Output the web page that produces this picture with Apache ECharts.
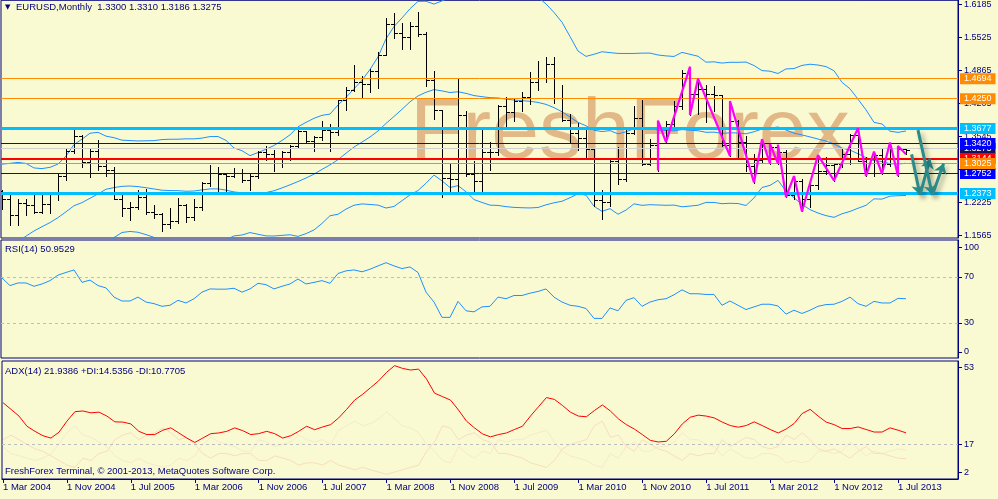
<!DOCTYPE html>
<html><head><meta charset="utf-8">
<script src="https://cdn.jsdelivr.net/npm/echarts@6/dist/echarts.min.js"></script>
<style>html,body{margin:0;padding:0;background:#FAFAD2}#c{width:998px;height:499px}</style>
</head><body><div id="c"></div><script>
// ---------- DATA ----------
const tickIdx = [0,8,16,24,32,40,48,56,64,72,80,88,96,104,112];
const tickLabels = ['1 Mar 2004','1 Nov 2004','1 Jul 2005','1 Mar 2006','1 Nov 2006','1 Jul 2007','1 Mar 2008','1 Nov 2008','1 Jul 2009','1 Mar 2010','1 Nov 2010','1 Jul 2011','1 Mar 2012','1 Nov 2012','1 Jul 2013'];
const priceTicks = [1.1565,1.2225,1.2885,1.3545,1.4205,1.4865,1.5525,1.6185];

const open = [
1.2460,1.2300,1.1970,1.2200,1.2170,1.2020,1.2180,1.2410,1.2760,1.3260,
1.3560,1.3040,1.3250,1.2960,1.2870,1.2300,1.2100,1.2120,1.2340,1.2030,
1.1980,1.1790,1.1840,1.2160,1.1920,1.2120,1.2620,1.2810,1.2790,1.2760,
1.2820,1.2670,1.2760,1.3240,1.3200,1.3020,1.3240,1.3360,1.3650,1.3450,
1.3540,1.3680,1.3640,1.4270,1.4470,1.4630,1.4590,1.4860,1.5180,1.5790,
1.5610,1.5540,1.5760,1.5600,1.4680,1.4070,1.2720,1.2700,1.3970,1.2800,
1.2660,1.3240,1.3230,1.4150,1.4030,1.4250,1.4330,1.4630,1.4720,1.5000,
1.4320,1.3870,1.3620,1.3510,1.3290,1.2270,1.2230,1.3050,1.2690,1.3620,
1.3920,1.3000,1.3380,1.3700,1.3800,1.4160,1.4810,1.4390,1.4500,1.4390,
1.4370,1.3380,1.3860,1.3440,1.2960,1.3080,1.3320,1.3340,1.3240,1.2370,
1.2660,1.2300,1.2580,1.2860,1.2970,1.2990,1.3190,1.3580,1.3060,1.2820,
1.3170,1.3000,1.3010,1.3300];
const high = [
1.2480,1.2390,1.2280,1.2300,1.2380,1.2380,1.2440,1.2810,1.3300,1.3670,
1.3580,1.3290,1.3480,1.3090,1.2930,1.2400,1.2230,1.2480,1.2500,1.2170,
1.2010,1.2100,1.2320,1.2190,1.2290,1.2640,1.2980,1.2940,1.2820,1.2910,
1.2900,1.2800,1.3260,1.3360,1.3280,1.3250,1.3380,1.3680,1.3660,1.3550,
1.3850,1.3790,1.4280,1.4530,1.4970,1.4760,1.4900,1.5240,1.5910,1.6020,
1.5820,1.5840,1.6040,1.5630,1.4860,1.4080,1.3020,1.4720,1.4060,1.3050,
1.3740,1.3430,1.4170,1.4340,1.4310,1.4440,1.4840,1.5060,1.5140,1.5140,
1.4580,1.3990,1.3820,1.3690,1.3310,1.2470,1.3110,1.3330,1.3670,1.4160,
1.4280,1.3500,1.3860,1.3860,1.4250,1.4880,1.4940,1.4700,1.4580,1.4550,
1.4380,1.4250,1.3880,1.3550,1.3190,1.3490,1.3390,1.3380,1.3280,1.2750,
1.2690,1.2640,1.3170,1.3140,1.3020,1.3310,1.3600,1.3710,1.3130,1.3240,
1.3310,1.3420,1.3350,1.3310];
const low = [
1.2080,1.1760,1.1760,1.1970,1.2010,1.2010,1.2010,1.2260,1.2680,1.3210,
1.2940,1.2730,1.2870,1.2760,1.2280,1.1950,1.1870,1.2080,1.1990,1.1910,
1.1640,1.1710,1.1800,1.1830,1.1870,1.2060,1.2560,1.2460,1.2460,1.2730,
1.2640,1.2480,1.2720,1.3070,1.2860,1.2930,1.3070,1.3320,1.3410,1.3260,
1.3480,1.3260,1.3580,1.4070,1.4450,1.4330,1.4440,1.4510,1.5170,1.5520,
1.5290,1.5300,1.5560,1.4560,1.3890,1.2330,1.2420,1.2420,1.2760,1.2460,
1.2460,1.2880,1.3180,1.3740,1.3850,1.4050,1.4200,1.4480,1.4640,1.4210,
1.3860,1.3440,1.3270,1.3120,1.2140,1.1880,1.2150,1.2590,1.2650,1.3600,
1.2970,1.2970,1.2860,1.3430,1.3750,1.4100,1.3970,1.4000,1.3830,1.4050,
1.3360,1.3150,1.3140,1.2860,1.2620,1.3010,1.3000,1.3000,1.2330,1.2280,
1.2040,1.2130,1.2500,1.2800,1.2660,1.2930,1.3000,1.3060,1.2750,1.2745,
1.2795,1.2950,1.2750,1.3186];
const close = [
1.2300,1.1970,1.2200,1.2170,1.2020,1.2180,1.2410,1.2760,1.3260,1.3560,
1.3040,1.3250,1.2960,1.2870,1.2300,1.2100,1.2120,1.2340,1.2030,1.1980,
1.1790,1.1840,1.2160,1.1920,1.2120,1.2620,1.2810,1.2790,1.2760,1.2820,
1.2670,1.2760,1.3240,1.3200,1.3020,1.3240,1.3360,1.3650,1.3450,1.3540,
1.3680,1.3640,1.4270,1.4470,1.4630,1.4590,1.4860,1.5180,1.5790,1.5610,
1.5540,1.5760,1.5600,1.4680,1.4070,1.2720,1.2700,1.3970,1.2800,1.2660,
1.3240,1.3230,1.4150,1.4030,1.4250,1.4330,1.4630,1.4720,1.5000,1.4320,
1.3870,1.3620,1.3510,1.3290,1.2270,1.2230,1.3050,1.2690,1.3620,1.3920,
1.3000,1.3380,1.3700,1.3800,1.4160,1.4810,1.4390,1.4500,1.4390,1.4370,
1.3380,1.3860,1.3440,1.2960,1.3080,1.3320,1.3340,1.3240,1.2370,1.2660,
1.2300,1.2580,1.2860,1.2970,1.2990,1.3190,1.3580,1.3060,1.2820,1.3170,
1.3000,1.3010,1.3300,1.3275];

const bbUpper = [
1.2988,1.3004,1.3023,1.3002,1.2912,1.2899,1.2924,1.2989,1.3150,1.3381,
1.3489,1.3607,1.3625,1.3549,1.3518,1.3468,1.3460,1.3452,1.3456,1.3459,
1.3480,1.3487,1.3487,1.3495,1.3494,1.3510,1.3540,1.3541,1.3464,1.3311,
1.3257,1.3158,1.3220,1.3287,1.3361,1.3462,1.3574,1.3737,1.3824,1.3906,
1.3965,1.3991,1.4172,1.4324,1.4497,1.4668,1.4884,1.5136,1.5497,1.5745,
1.5916,1.6100,1.6248,1.6250,1.6193,1.6257,1.6324,1.6318,1.6375,1.6443,
1.6457,1.6471,1.6465,1.6445,1.6422,1.6403,1.6383,1.6328,1.6197,1.6026,
1.5829,1.5544,1.5253,1.5146,1.5188,1.5239,1.5221,1.5205,1.5204,1.5205,
1.5211,1.5212,1.5174,1.5156,1.5144,1.5226,1.5188,1.5149,1.5030,1.5037,
1.5012,1.5028,1.5027,1.5032,1.4963,1.4861,1.4850,1.4803,1.4895,1.4902,
1.4965,1.4989,1.4973,1.4941,1.4859,1.4626,1.4497,1.4289,1.4075,1.3825,
1.3792,1.3647,1.3624,1.3652];
const bbMiddle = [
1.1206,1.1314,1.1431,1.1546,1.1650,1.1735,1.1818,1.1917,1.2034,1.2155,
1.2217,1.2305,1.2391,1.2485,1.2518,1.2544,1.2550,1.2538,1.2516,1.2491,
1.2466,1.2459,1.2457,1.2445,1.2450,1.2472,1.2492,1.2493,1.2468,1.2431,
1.2413,1.2388,1.2402,1.2419,1.2455,1.2512,1.2574,1.2639,1.2710,1.2788,
1.2883,1.2973,1.3078,1.3206,1.3331,1.3430,1.3532,1.3652,1.3803,1.3943,
1.4086,1.4236,1.4354,1.4428,1.4481,1.4455,1.4422,1.4438,1.4405,1.4361,
1.4339,1.4319,1.4313,1.4291,1.4272,1.4259,1.4247,1.4224,1.4185,1.4120,
1.4037,1.3930,1.3825,1.3756,1.3666,1.3641,1.3659,1.3595,1.3636,1.3699,
1.3687,1.3694,1.3672,1.3660,1.3656,1.3680,1.3668,1.3657,1.3626,1.3629,
1.3604,1.3616,1.3613,1.3596,1.3637,1.3691,1.3706,1.3733,1.3671,1.3608,
1.3573,1.3533,1.3491,1.3449,1.3391,1.3310,1.3269,1.3197,1.3119,1.3059,
1.3040,1.2997,1.2990,1.3006];
const bbLower = [
0.9424,0.9624,0.9839,1.0090,1.0388,1.0571,1.0712,1.0845,1.0918,1.0929,
1.0945,1.1003,1.1157,1.1421,1.1518,1.1620,1.1640,1.1624,1.1576,1.1523,
1.1452,1.1431,1.1427,1.1395,1.1406,1.1434,1.1444,1.1445,1.1472,1.1551,
1.1569,1.1618,1.1584,1.1551,1.1549,1.1562,1.1574,1.1541,1.1596,1.1670,
1.1801,1.1955,1.1984,1.2088,1.2165,1.2192,1.2180,1.2168,1.2109,1.2141,
1.2256,1.2372,1.2460,1.2606,1.2769,1.2653,1.2520,1.2558,1.2435,1.2279,
1.2221,1.2167,1.2161,1.2137,1.2122,1.2115,1.2111,1.2120,1.2173,1.2214,
1.2245,1.2316,1.2397,1.2366,1.2144,1.2043,1.2097,1.1985,1.2068,1.2193,
1.2163,1.2176,1.2170,1.2164,1.2168,1.2134,1.2148,1.2165,1.2222,1.2221,
1.2196,1.2204,1.2199,1.2160,1.2311,1.2521,1.2562,1.2663,1.2447,1.2314,
1.2181,1.2077,1.2009,1.1957,1.1923,1.1994,1.2041,1.2105,1.2163,1.2293,
1.2288,1.2347,1.2356,1.2360];

const rsi = [
69.0,62.4,64.7,64.7,61.8,63.8,66.7,71.5,73.8,76.0,
65.2,67.2,62.4,60.4,52.4,49.0,49.0,52.4,48.1,46.7,
44.4,45.3,49.6,47.3,51.0,56.7,59.5,59.3,59.3,60.1,
56.7,59.5,64.4,63.2,59.5,61.8,63.8,68.1,63.8,65.2,
66.7,64.4,72.9,75.2,76.0,74.4,76.6,79.5,82.3,79.5,
77.2,78.6,73.8,56.7,48.1,34.8,34.8,48.7,40.5,39.6,
43.9,44.4,52.4,51.0,53.8,53.8,55.8,57.3,59.5,52.4,
48.1,45.3,44.4,42.5,33.9,33.9,43.0,40.5,49.6,51.9,
44.4,48.1,50.1,51.0,54.4,58.7,55.3,55.3,54.7,54.7,
45.3,49.0,45.3,41.6,43.9,46.2,46.2,44.7,37.6,41.0,
38.2,41.0,44.4,45.9,46.2,48.7,52.4,46.7,44.4,48.7,
47.3,47.3,51.3,50.95];
const adx = [
35.0,32.1,29.2,24.8,22.6,20.7,19.7,22.2,27.0,31.1,
31.4,30.6,30.9,29.2,26.7,26.6,25.8,22.6,21.2,21.2,
23.1,24.1,21.9,19.7,17.8,19.7,21.6,21.9,22.6,24.1,
22.9,21.2,21.6,22.6,21.6,19.7,20.7,22.6,24.8,23.3,
24.5,25.5,28.4,32.1,36.1,38.6,41.5,44.4,48.1,51.0,
49.8,49.1,49.5,45.2,39.1,37.6,36.1,31.8,27.0,24.1,
21.5,20.2,21.2,21.9,23.4,24.8,29.2,33.2,37.2,36.4,
33.8,30.9,29.2,28.9,31.6,34.0,31.4,28.0,25.5,23.6,
21.2,18.7,18.0,18.3,21.5,25.8,28.7,29.6,29.2,28.4,
26.6,25.1,24.4,25.1,26.7,25.1,23.4,21.9,23.6,26.0,
30.3,32.1,29.2,26.6,25.5,23.8,23.8,24.5,23.4,22.3,
22.3,24.1,23.1,21.94];
const plusDI = [
16,13,12,11,10,11,13,17,22,25,
21,20,18,16,12,10,9,11,9,8,
7,8,11,10,12,17,20,18,17,16,
14,14,19,18,16,17,18,21,19,18,
19,17,23,25,27,25,26,28,31,28,
25,24,22,17,14,10,9,16,13,11,
14,13,19,18,19,19,21,22,23,18,
14,12,11,10,8,7,13,11,16,18,
14,14,16,16,18,22,19,19,17,16,
12,15,13,11,11,13,13,12,9,10,
9,10,14,14,13,14,18,15,12,14,
13,14,15,14.54];
const minusDI = [
19,21,19,17,15,14,12,10,8,7,
11,10,13,14,19,21,22,19,21,22,
24,22,19,20,17,13,11,13,13,12,
13,13,10,10,12,11,10,8,9,9,
8,10,8,7,6,7,6,5,4,5,
6,7,8,14,18,25,24,19,21,22,
19,18,13,13,12,11,9,8,7,10,
15,17,18,19,25,27,20,21,16,14,
19,17,15,14,12,10,13,12,13,13,
19,16,18,20,19,16,15,16,21,19,
22,19,15,14,15,13,11,14,16,13,
13,12,11,10.77];

// zigzag pivots: bar index and price
const zigIdx   = [82,82,83,86,86,87,91,91,94,95,96,96,97,97,98,99,100,102,104,107,108,109,110,111,112,112,113];
const zigPrice = [1.2860,1.3860,1.3430,1.4940,1.3970,1.4700,1.3150,1.4250,1.2620,1.3490,1.3000,1.3390,1.3000,1.3380,1.2330,1.2750,1.2040,1.3170,1.2660,1.3710,1.2750,1.3240,1.2795,1.3420,1.2750,1.3350,1.3186];

// horizontal levels (price)
const levelValues = [1.4694,1.4250,1.3677,1.2373,1.2752,1.3275,1.3144,1.3025,1.3420];

// forecast arrows: [fromIdx, fromPrice, toIdx, toPrice]
const arrowsData = [
  [113.7,1.3183,114.75,1.2369],
  [114.75,1.2369,116.0,1.3103],
  [114.5,1.3669,116.3,1.2369],
  [116.3,1.2369,117.7,1.3003]
];

// ---------- STYLE ----------
const NAVY = '#000080';
const FONT = 'Liberation Sans, Arial, sans-serif';
const levelStyle = {
  '1.4694': {c:'#FF8C00', w:1},
  '1.4250': {c:'#FF8C00', w:1},
  '1.3677': {c:'#00BFFF', w:3},
  '1.2373': {c:'#00BFFF', w:3},
  '1.2752': {c:'#0000FF', w:1},
  '1.3420': {c:'#0000FF', w:1},
  '1.3275': {c:'#D0D0D0', w:1, box:'#14145A'},
  '1.3144': {c:'#FF0000', w:2},
  '1.3025': {c:'#FF8C00', w:1}
};

const idxs = close.map((_, i) => i);
const pair = arr => arr.map((v, i) => [idxs[i], v]);

const xBase = {type:'value', min:-0.125, max:119.5};
const hiddenX = g => Object.assign({}, xBase, {gridIndex:g, show:false, axisLine:{onZero:false}});

const yCommon = (g, min, max, vals, fmt) => ({
  gridIndex:g, type:'value', position:'right', min:min, max:max,
  axisLine:{show:true, onZero:false, lineStyle:{color:NAVY, width:1}},
  axisTick:{show:true, length:4, customValues:vals, lineStyle:{color:NAVY}},
  axisLabel:{customValues:vals, formatter:fmt, color:NAVY, fontSize:9, fontFamily:FONT, margin:6},
  splitLine:{show:false}
});

const chart = echarts.init(document.getElementById('c'), null, {renderer:'canvas', width:998, height:499});

const option = {
  animation:false,
  backgroundColor:'#FAFAD2',
  textStyle:{fontFamily:FONT},
  grid:[
    {left:1, top:0, width:957, height:238, show:true, borderColor:NAVY, borderWidth:1, backgroundColor:'transparent'},
    {left:1, top:240, width:957, height:118, show:true, borderColor:NAVY, borderWidth:1, backgroundColor:'transparent'},
    {left:1, top:361, width:957, height:118, show:true, borderColor:NAVY, borderWidth:1, backgroundColor:'transparent'}
  ],
  xAxis:[
    hiddenX(0), hiddenX(1),
    Object.assign({}, xBase, {
      gridIndex:2,
      axisLine:{show:true, onZero:false, lineStyle:{color:NAVY}},
      axisTick:{show:true, length:4, customValues:tickIdx, lineStyle:{color:NAVY}},
      axisLabel:{customValues:tickIdx, align:'left', margin:3, color:NAVY, fontSize:9.5, fontFamily:FONT,
        formatter:v => tickLabels[tickIdx.indexOf(Math.round(v))] || ''},
      splitLine:{show:false}
    })
  ],
  yAxis:[
    yCommon(0, 1.1509, 1.6269, priceTicks, v => v.toFixed(4)),
    yCommon(1, -0.5, 102, [4.7,30,70,95.9], v => v < 10 ? '0' : (v > 90 ? '100' : String(Math.round(v)))),
    yCommon(2, 2, 53, [4.9,17,50.1], v => v < 10 ? '2' : (v > 40 ? '53' : String(Math.round(v))))
  ],
  graphic:[
    {type:'text', x:410, y:134, z:-5, silent:true,
      style:{text:'FreshForex', fontSize:86, fontFamily:FONT, fill:'#E2B887', verticalAlign:'middle'}},
    {type:'text', x:5, y:7.5, z:50, silent:true, style:{text:'▼', fontSize:7, fontFamily:'DejaVu Sans', fill:NAVY, verticalAlign:'middle'}},
    {type:'text', x:16, y:7.5, z:50, silent:true, style:{text:'EURUSD,Monthly  1.3300 1.3310 1.3186 1.3275', fontSize:9.5, fontFamily:FONT, fill:NAVY, verticalAlign:'middle'}},
    {type:'text', x:5, y:249.5, z:50, silent:true, style:{text:'RSI(14) 50.9529', fontSize:9.5, fontFamily:FONT, fill:NAVY, verticalAlign:'middle'}},
    {type:'text', x:5, y:371, z:50, silent:true, style:{text:'ADX(14) 21.9386 +DI:14.5356 -DI:10.7705', fontSize:9.5, fontFamily:FONT, fill:NAVY, verticalAlign:'middle'}},
    {type:'text', x:5, y:471, z:50, silent:true, style:{text:'FreshForex Terminal, © 2001-2013, MetaQuotes Software Corp.', fontSize:9.5, fontFamily:FONT, fill:NAVY, verticalAlign:'middle'}}
  ],
  series:[
    // Bollinger bands
    {type:'line', xAxisIndex:0, yAxisIndex:0, data:pair(bbUpper), showSymbol:false, symbol:'none', z:2, clip:true, lineStyle:{color:'#1E90FF', width:1}},
    {type:'line', xAxisIndex:0, yAxisIndex:0, data:pair(bbMiddle), showSymbol:false, symbol:'none', z:2, clip:true, lineStyle:{color:'#1E90FF', width:1}},
    {type:'line', xAxisIndex:0, yAxisIndex:0, data:pair(bbLower), showSymbol:false, symbol:'none', z:2, clip:true, lineStyle:{color:'#1E90FF', width:1}},
    // OHLC bars
    {type:'custom', xAxisIndex:0, yAxisIndex:0, z:3, clip:true,
      data: open.map((o, i) => [idxs[i], o, high[i], low[i], close[i]]),
      encode:{x:0, y:[1,2,3,4]},
      renderItem:(params, api) => {
        const i = api.value(0);
        const pO = api.coord([i, api.value(1)]);
        const pH = api.coord([i, api.value(2)]);
        const pL = api.coord([i, api.value(3)]);
        const pC = api.coord([i, api.value(4)]);
        const x = Math.round(pH[0]) + 0.5;
        const yo = Math.round(pO[1]) + 0.5, yc = Math.round(pC[1]) + 0.5;
        const st = {stroke:'#000000', lineWidth:1};
        return {type:'group', children:[
          {type:'line', shape:{x1:x, y1:Math.round(pH[1]), x2:x, y2:Math.round(pL[1]) + 1}, style:st},
          {type:'line', shape:{x1:x - 3.5, y1:yo, x2:x, y2:yo}, style:st},
          {type:'line', shape:{x1:x, y1:yc, x2:x + 3.5, y2:yc}, style:st}
        ]};
      }
    },
    // horizontal levels with right-side price boxes
    {type:'line', xAxisIndex:0, yAxisIndex:0, data:[], z:4,
      markLine:{silent:true, symbol:['none','none'], animation:false,
        data: levelValues.map(v => {
          const s = levelStyle[v.toFixed(4)];
          return {yAxis:v,
            lineStyle:{color:s.c, width:s.w, type:'solid'},
            label:{show:true, position:'end', distance:2, formatter:v.toFixed(4),
              color:'#FFFFFF', backgroundColor:s.box || s.c, padding:[1,4,0,4],
              fontSize:9, lineHeight:10, fontFamily:FONT}};
        })}
    },
    // zigzag
    {type:'line', xAxisIndex:0, yAxisIndex:0, z:5, clip:true, showSymbol:false, symbol:'none',
      data: zigIdx.map((x, k) => [x, zigPrice[k]]),
      lineStyle:{color:'#FF00FF', width:2.2}},
    // arrows
    {type:'lines', coordinateSystem:'cartesian2d', xAxisIndex:0, yAxisIndex:0, z:6,
      symbol:['none','arrow'], symbolSize:10,
      lineStyle:{color:'#2B8A8A', width:3, opacity:1, shadowBlur:5, shadowColor:'rgba(0,0,0,0.35)', shadowOffsetX:3, shadowOffsetY:3},
      data: arrowsData.map(a => ({coords:[[a[0], a[1]], [a[2], a[3]]]}))
    },
    // RSI
    {type:'line', xAxisIndex:1, yAxisIndex:1, data:pair(rsi), showSymbol:false, symbol:'none', z:3,
      lineStyle:{color:'#1E90FF', width:1},
      markLine:{silent:true, symbol:['none','none'], label:{show:false},
        lineStyle:{color:'#BDBDBD', type:[3,3], width:1},
        data:[{yAxis:30},{yAxis:70}]}},
    // ADX block
    {type:'line', xAxisIndex:2, yAxisIndex:2, data:pair(plusDI), showSymbol:false, symbol:'none', z:2,
      lineStyle:{color:'#F4EACB', width:1}},
    {type:'line', xAxisIndex:2, yAxisIndex:2, data:pair(minusDI), showSymbol:false, symbol:'none', z:2,
      lineStyle:{color:'#F8DDC0', width:1}},
    {type:'line', xAxisIndex:2, yAxisIndex:2, data:pair(adx), showSymbol:false, symbol:'none', z:3,
      lineStyle:{color:'#FF0000', width:1},
      markLine:{silent:true, symbol:['none','none'], label:{show:false},
        lineStyle:{color:'#BDBDBD', type:[3,3], width:1},
        data:[{yAxis:17}]}}
  ]
};
chart.setOption(option);
</script></body></html>
